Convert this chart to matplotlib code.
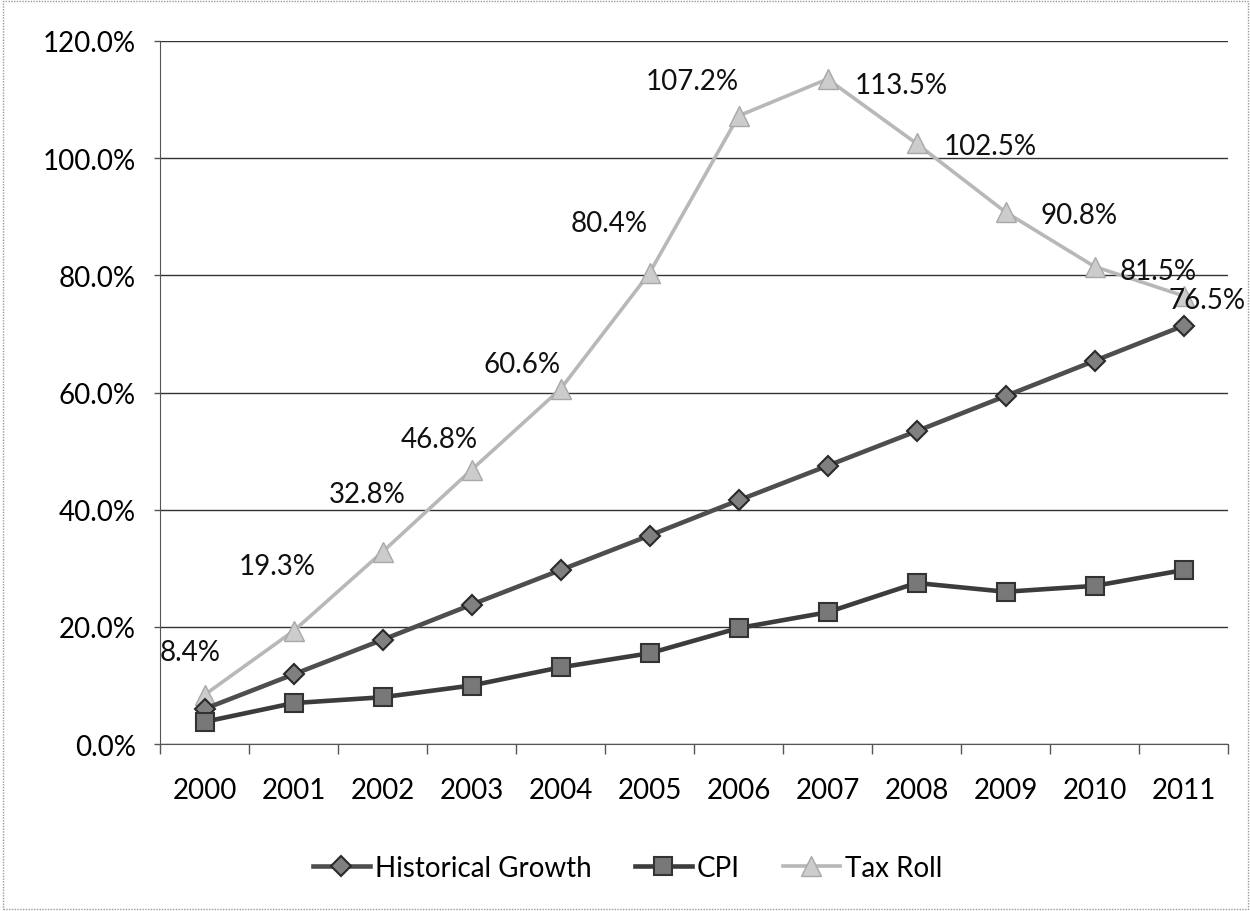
"""Historical growth vs CPI vs tax roll, cumulative % since 1999."""

import matplotlib

matplotlib.use("Agg")
import matplotlib.pyplot as plt
from matplotlib.patches import Rectangle
from matplotlib.ticker import FuncFormatter, MultipleLocator

years = ["2000", "2001", "2002", "2003", "2004", "2005",
         "2006", "2007", "2008", "2009", "2010", "2011"]
historical_growth = [6.0, 11.9, 17.8, 23.8, 29.7, 35.6,
                     41.6, 47.5, 53.4, 59.4, 65.4, 71.4]
cpi = [3.8, 7.0, 8.0, 10.0, 13.1, 15.5,
       19.8, 22.5, 27.5, 26.0, 27.0, 29.7]
tax_roll = [8.4, 19.3, 32.8, 46.8, 60.6, 80.4,
            107.2, 113.5, 102.5, 90.8, 81.5, 76.5]

# label offsets in points (the Excel labels were dragged by hand)
label_offsets = [(-10, 31), (-12, 47), (-11, 42), (-23, 22), (-28, 18), (-29, 36),
                 (-33, 25), (53, -4), (53, -2), (53, -2), (46, -3), (17, -3)]

plt.rcParams["font.family"] = ["Lato", "DejaVu Sans"]
FS = 20

fig = plt.figure(figsize=(12.5, 9.12), dpi=100)
ax = fig.add_axes([0.128, 0.183, 0.8544, 0.771])

x = list(range(len(years)))
ax.plot(x, tax_roll, color="#b8b8b8", lw=2.6, marker="^", ms=14,
        mfc="#cccccc", mec="#a8a8a8", label="Tax Roll", zorder=3)
ax.plot(x, historical_growth, color="#4e4e4e", lw=3.3, marker="D", ms=10,
        mfc="#808080", mec="#2a2a2a", mew=1.5, label="Historical Growth", zorder=4)
ax.plot(x, cpi, color="#3c3c3c", lw=3.3, marker="s", ms=13,
        mfc="#787878", mec="#333333", mew=1.5, label="CPI", zorder=5)

for i, v in enumerate(tax_roll):
    ax.annotate(f"{v:.1f}%", (i, v), xytext=label_offsets[i],
                textcoords="offset points", ha="center", va="center",
                fontsize=FS, color="#111111", zorder=6)

ax.set_xlim(-0.5, len(years) - 0.5)
ax.set_ylim(0, 120)
ax.yaxis.set_major_locator(MultipleLocator(20))
ax.yaxis.set_major_formatter(FuncFormatter(lambda v, _: f"{v:.1f}%"))
ax.set_xticks(x)
ax.set_xticklabels(years)
ax.set_xticks([i - 0.5 for i in range(len(years) + 1)], minor=True)
ax.tick_params(axis="x", which="major", length=0, pad=24, labelsize=FS)
ax.tick_params(axis="x", which="minor", length=7, width=1, color="#555555")
ax.tick_params(axis="y", length=4.5, width=1, color="#555555", pad=13, labelsize=FS)

ax.grid(axis="y", color="#333333", lw=1)
ax.set_axisbelow(True)
for side in ("top", "right"):
    ax.spines[side].set_visible(False)
for side in ("left", "bottom"):
    ax.spines[side].set_color("#555555")

handles, labels = ax.get_legend_handles_labels()
order = [1, 2, 0]
fig.legend([handles[i] for i in order], [labels[i] for i in order],
           loc="center", bbox_to_anchor=(0.502, 0.047), ncol=3, frameon=False,
           fontsize=FS, handlelength=2.05, columnspacing=1.55, handletextpad=0.18)

fig.patches.append(Rectangle((0.002, 0.002), 0.996, 0.996, transform=fig.transFigure,
                             fill=False, ec="#999999", lw=1, ls=(0, (1, 1))))

fig.savefig("out.png", dpi=100)
